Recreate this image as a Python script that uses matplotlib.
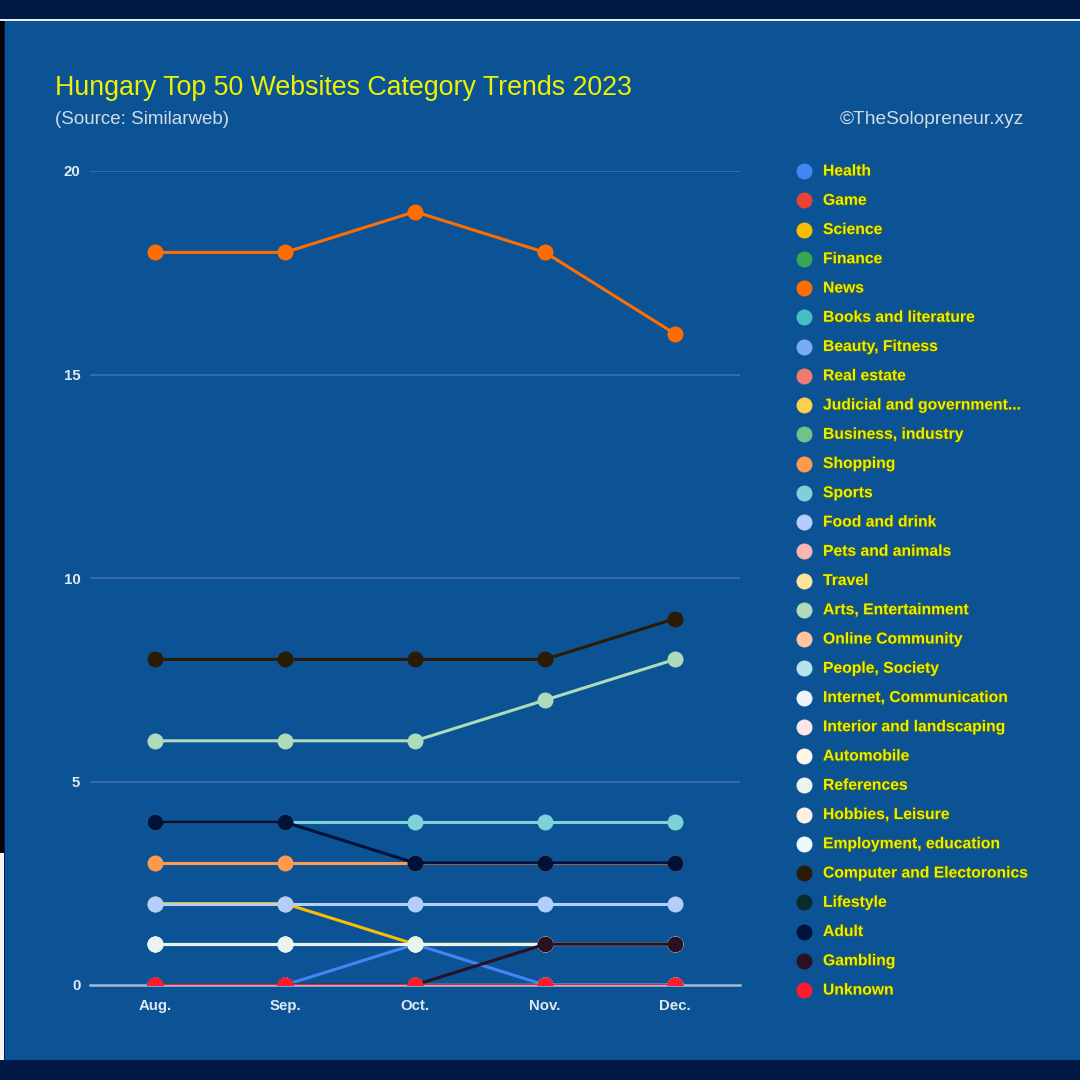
import matplotlib
matplotlib.use('Agg')
import matplotlib.pyplot as plt
from matplotlib.lines import Line2D
from matplotlib.patches import Rectangle
import matplotlib.patheffects as pe

months = ['Aug.', 'Sep.', 'Oct.', 'Nov.', 'Dec.']

categories = ['Health', 'Game', 'Science', 'Finance', 'News', 'Books and literature',
              'Beauty, Fitness', 'Real estate', 'Judicial and government...',
              'Business, industry', 'Shopping', 'Sports', 'Food and drink',
              'Pets and animals', 'Travel', 'Arts, Entertainment', 'Online Community',
              'People, Society', 'Internet, Communication', 'Interior and landscaping',
              'Automobile', 'References', 'Hobbies, Leisure', 'Employment, education',
              'Computer and Electoronics', 'Lifestyle', 'Adult', 'Gambling', 'Unknown']

colors = ['#4285f4', '#ea4335', '#fbbc04', '#34a853', '#ff6d01', '#46bdc6',
          '#7baaf7', '#f07b72', '#fcd04f', '#71c287', '#ff994d', '#7ed1d7',
          '#b3cefb', '#f7b7b0', '#fde49b', '#aedcba', '#ffc4a0', '#b5e3e8',
          '#eef3fe', '#fde6e6', '#fff8e6', '#e9f4ec', '#ffeee6', '#eef8fb',
          '#2b1a04', '#0b2b2b', '#00113a', '#2a1020', '#ff1a2e']

health = [0, 0, 1, 0, 0]
game = [0, 0, 0, 0, 0]
science = [2, 2, 1, 1, 1]
finance = [0, 0, 0, 0, 0]
news = [18, 18, 19, 18, 16]
books = [0, 0, 0, 0, 0]
beauty = [0, 0, 0, 0, 0]
real_estate = [0, 0, 0, 0, 0]
judicial = [0, 0, 0, 0, 0]
business = [0, 0, 0, 0, 0]
shopping = [3, 3, 3, 3, 3]
sports = [4, 4, 4, 4, 4]
food = [2, 2, 2, 2, 2]
pets = [0, 0, 0, 0, 0]
travel = [0, 0, 0, 0, 0]
arts = [6, 6, 6, 7, 8]
online = [0, 0, 0, 0, 0]
people = [0, 0, 0, 0, 0]
internet = [1, 1, 1, 1, 1]
interior = [0, 0, 0, 0, 0]
automobile = [1, 1, 1, 1, 1]
references = [1, 1, 1, 1, 1]
hobbies = [0, 0, 0, 0, 0]
employment = [0, 0, 0, 0, 0]
computer = [8, 8, 8, 8, 9]
lifestyle = [0, 0, 0, 0, 0]
adult = [4, 4, 3, 3, 3]
gambling = [0, 0, 0, 1, 1]
unknown = [0, 0, 0, 0, 0]

series = [health, game, science, finance, news, books, beauty, real_estate, judicial,
          business, shopping, sports, food, pets, travel, arts, online, people,
          internet, interior, automobile, references, hobbies, employment,
          computer, lifestyle, adult, gambling, unknown]

plt.rcParams['font.family'] = ['Liberation Sans', 'DejaVu Sans']

W = 1080.0
def fx(px):
    return px / W
def fy(py):
    return 1 - py / W

fig = plt.figure(figsize=(10.8, 10.8), dpi=100)
fig.patch.set_facecolor('#001a45')

# blue panel + thin borders
fig.add_artist(Rectangle((fx(5), fy(1060)), fx(1075), 1040 / W, transform=fig.transFigure,
                         facecolor='#0c5395', edgecolor='none', zorder=0))
fig.add_artist(Rectangle((0, fy(21)), 1, 2 / W, transform=fig.transFigure,
                         facecolor='#e8eef5', edgecolor='none', zorder=0))
fig.add_artist(Rectangle((0, fy(853)), fx(4), 832 / W, transform=fig.transFigure,
                         facecolor='#050505', edgecolor='none', zorder=0))
fig.add_artist(Rectangle((0, fy(1060)), fx(4), 207 / W, transform=fig.transFigure,
                         facecolor='#f4f4f4', edgecolor='none', zorder=0))

ax = fig.add_axes([fx(90), fy(985), fx(650), 814 / W])
ax.set_facecolor('none')

x = list(range(len(months)))
for vals, col in zip(series, colors):
    ax.plot(x, vals, color=col, lw=2.2, marker='o', markersize=11.5,
            markeredgewidth=0, zorder=3)

ax.set_xlim(-0.5, 4.5)
ax.set_ylim(0, 20)
ax.set_yticks([0, 5, 10, 15, 20])
ax.set_xticks(x)
ax.set_xticklabels(months)
for s in ax.spines.values():
    s.set_visible(False)
for yv in [5, 10, 15, 20]:
    ax.axhline(yv, color='#3b72ab', lw=1.2, zorder=1)
ax.axhline(0, color='#a3bad3', lw=1.8, zorder=1, clip_on=False)
ax.tick_params(axis='both', length=0, colors='#e3e9f0', labelsize=10.8)
ax.tick_params(axis='y', pad=7)
ax.tick_params(axis='x', pad=10)
for lab in ax.get_yticklabels() + ax.get_xticklabels():
    lab.set_fontweight('bold')

# titles
fig.text(fx(55), fy(88), 'Hungary Top 50 Websites Category Trends 2023',
         color='#eef200', fontsize=19.3, va='center', ha='left')
fig.text(fx(55), fy(119), '(Source: Similarweb)', color='#d3dbe4',
         fontsize=13.5, va='center', ha='left')
fig.text(fx(1024), fy(119), '\u00a9TheSolopreneur.xyz', color='#d3dbe4',
         fontsize=13.8, va='center', ha='right')

# legend
step = (990 - 171) / (len(categories) - 1)
for i, (name, col) in enumerate(zip(categories, colors)):
    yy = fy(171 + i * step)
    fig.add_artist(Line2D([fx(804)], [yy], transform=fig.transFigure, marker='o',
                          markersize=11.5, color=col, markeredgewidth=0, lw=0))
    fig.text(fx(823), yy, name, color='#e8f200', fontsize=11.3, fontweight='bold',
             va='center', ha='left',
             path_effects=[pe.withStroke(linewidth=1.2, foreground='#3d5a3a')])

fig.savefig('out.png', dpi=100, facecolor=fig.get_facecolor())
